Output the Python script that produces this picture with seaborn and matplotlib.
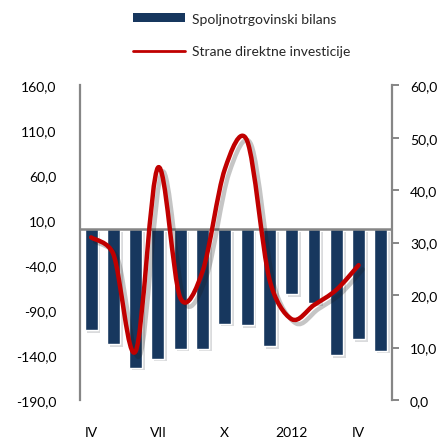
import numpy as np
import matplotlib
matplotlib.use('Agg')
import matplotlib.pyplot as plt
import matplotlib.patheffects as pe
from matplotlib.path import Path
from matplotlib.patches import PathPatch, Patch
from matplotlib.lines import Line2D
from matplotlib.ticker import FuncFormatter
import seaborn as sns

# podaci (mjeseci od IV 2011 do V 2012)
months = ['IV', 'V', 'VI', 'VII', 'VIII', 'IX', 'X', 'XI', 'XII', '2012', 'II', 'III', 'IV', 'V']
trade_balance = [-112, -128, -154, -144, -133, -133, -105, -107, -130, -72, -82, -140, -122, -135]
fdi = [31.0, 27.8, 9.3, 44.3, 19.5, 24.5, 44.0, 49.4, 23.0, 15.4, 18.1, 21.0, 25.7]
shown_ticks = [0, 3, 6, 9, 12]

bar_color = '#17375E'
line_color = '#C00000'
grey = '#868686'

sns.set_theme(style='white')
plt.rcParams['font.family'] = ['Lato', 'DejaVu Sans']


def comma_fmt(v, _):
    return f'{v:.1f}'.replace('.', ',')


def smooth_path(axis, xs, ys):
    # Excel-style smoothed line: bezier control points worked out in
    # screen space, handles limited to half of the segment length
    tr = axis.transData
    pts = tr.transform(np.column_stack([xs, ys]).astype(float))
    n = len(pts)
    verts = [pts[0]]
    codes = [Path.MOVETO]
    for i in range(n - 1):
        p0 = pts[max(i - 1, 0)]
        p1 = pts[i]
        p2 = pts[i + 1]
        p3 = pts[min(i + 2, n - 1)]
        d02 = np.hypot(*(p2 - p0))
        d12 = np.hypot(*(p2 - p1))
        d13 = np.hypot(*(p3 - p1))
        f = 1 / 6 if d02 / 6 < d12 / 2 else d12 / d02 / 2
        g = 1 / 6 if d13 / 6 < d12 / 2 else d12 / d13 / 2
        verts += [p1 + f * (p2 - p0), p2 - g * (p3 - p1), p2]
        codes += [Path.CURVE4] * 3
    verts = tr.inverted().transform(np.array(verts))
    return Path(verts, codes)


fig = plt.figure(figsize=(4.44, 4.39), dpi=100)
ax = fig.add_axes([0.180, 0.0866, 0.703, 0.717])

pos = np.arange(len(months))
sns.barplot(x=pos, y=trade_balance, color=bar_color, width=0.58,
            saturation=1, ax=ax)
for bar in ax.patches:
    bar.set_path_effects([pe.SimplePatchShadow(offset=(2, -2), alpha=0.15),
                          pe.Normal()])

ax.set_xlim(-0.5, len(months) - 0.5)
ax.set_ylim(-190, 160)
ax.set_yticks(np.arange(-190, 161, 50))
ax.yaxis.set_major_formatter(FuncFormatter(comma_fmt))
ax.tick_params(axis='y', length=0, pad=17, labelsize=10, labelcolor='black')
ax.set_xticks(shown_ticks)
ax.set_xticklabels([months[i] for i in shown_ticks])
ax.tick_params(axis='x', length=0, pad=19, labelsize=10, labelcolor='black')
ax.set_xlabel('')
ax.set_ylabel('')
ax.axhline(0, color=grey, lw=1.8, zorder=3)
for s in ['top', 'bottom', 'right']:
    ax.spines[s].set_visible(False)
ax.spines['left'].set_color(grey)
ax.spines['left'].set_linewidth(1.6)

# desna osa - SDI
ax2 = ax.twinx()
ax2.set_ylim(0, 60)
ax2.set_xlim(-0.5, len(months) - 0.5)
ax2.set_yticks(np.arange(0, 61, 10))
ax2.yaxis.set_major_formatter(FuncFormatter(comma_fmt))
ax2.tick_params(axis='y', length=5, width=1.4, color=grey, direction='out',
                pad=8, labelsize=10, labelcolor='black')
for s in ['top', 'bottom', 'left']:
    ax2.spines[s].set_visible(False)
ax2.spines['right'].set_color(grey)
ax2.spines['right'].set_linewidth(1.6)
ax2.grid(False)

line = PathPatch(smooth_path(ax2, pos[:len(fdi)], fdi), fill=False,
                 edgecolor=line_color, lw=3.2, capstyle='round',
                 joinstyle='round', zorder=4)
line.set_path_effects([pe.SimpleLineShadow(offset=(3, -3), alpha=0.25),
                       pe.Normal()])
ax2.add_patch(line)

handles = [Patch(facecolor=bar_color, edgecolor='none'),
           Line2D([0], [0], color=line_color, lw=2)]
fig.legend(handles, ['Spoljnotrgovinski bilans', 'Strane direktne investicije'],
           loc='upper left', bbox_to_anchor=(0.285, 0.985), frameon=False,
           handlelength=3.7, handleheight=0.6, labelspacing=1.5,
           handletextpad=0.5, fontsize=10, borderpad=0)

fig.savefig('out.png', dpi=100)
